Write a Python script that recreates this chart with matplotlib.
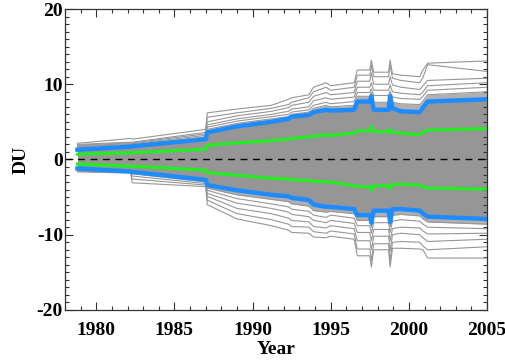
import numpy as np
import matplotlib
matplotlib.use('Agg')
from matplotlib import pyplot as plt
from matplotlib.ticker import MultipleLocator

plt.rcParams['font.family'] = ['Liberation Serif', 'DejaVu Serif']
plt.rcParams['font.weight'] = 'bold'
plt.rcParams['axes.unicode_minus'] = False

# shared break points (year) for every series
years = [1978.8, 1982.2, 1982.3, 1987.0, 1987.1, 1989.0, 1991.2, 1992.3, 1992.5,
         1993.6, 1993.9, 1994.7, 1995.0, 1996.5, 1996.7, 1997.5, 1997.6, 1997.75,
         1998.7, 1998.8, 1998.95, 1999.5, 2000.7, 2000.9, 2001.2, 2005.0]

blue_up = [1.3, 1.7, 1.75, 2.7, 3.6, 4.4, 5.0, 5.4, 5.7, 5.9, 6.3, 6.6, 6.5,
           6.6, 7.7, 7.7, 8.4, 6.6, 6.6, 8.4, 6.8, 6.4, 6.3, 6.9, 7.7, 8.0]
green_up = [0.7, 0.9, 0.9, 1.35, 1.9, 2.2, 2.5, 2.7, 2.8, 3.0, 3.1, 3.25, 3.2,
            3.5, 3.8, 3.8, 4.4, 3.7, 3.7, 4.0, 3.6, 3.5, 3.3, 3.6, 3.9, 4.1]
blue_lo = [-1.2, -1.6, -1.65, -2.7, -3.4, -4.1, -4.7, -4.9, -5.1, -5.4, -6.0, -6.3, -6.3,
           -6.6, -7.4, -7.4, -8.4, -6.8, -6.8, -8.3, -6.6, -6.6, -6.8, -7.2, -7.6, -7.9]
green_lo = [-0.6, -0.9, -0.9, -1.4, -1.75, -2.1, -2.5, -2.6, -2.7, -2.8, -2.9, -2.95, -3.0,
            -3.5, -3.6, -3.6, -4.1, -3.5, -3.5, -3.9, -3.3, -3.3, -3.4, -3.6, -3.8, -3.95]

# outlying ensemble members
upper_members = [
    [2.15, 2.8, 2.7, 4.0, 6.2, 6.7, 7.2, 8.0, 8.2, 8.6, 9.6, 10.2, 9.8,
     10.2, 11.9, 11.9, 13.2, 11.6, 11.6, 13.2, 11.4, 11.2, 11.0, 11.9, 12.8, 13.1],
    [2.0, 2.3, 2.3, 3.6, 5.6, 6.2, 6.8, 7.3, 7.6, 8.2, 9.0, 9.6, 9.2,
     9.6, 11.2, 11.2, 12.5, 11.0, 11.0, 12.6, 10.8, 10.5, 10.2, 10.9, 12.6, 11.7],
    [1.9, 2.2, 2.2, 3.4, 5.0, 5.8, 6.4, 6.9, 7.2, 7.6, 8.4, 8.9, 8.6,
     8.9, 10.4, 10.4, 11.5, 10.0, 10.0, 11.0, 9.9, 9.6, 9.3, 9.8, 10.5, 10.8],
    [1.8, 2.1, 2.1, 3.2, 4.6, 5.4, 6.0, 6.4, 6.7, 7.0, 7.8, 8.2, 8.0,
     8.3, 9.6, 9.6, 10.2, 9.2, 9.2, 9.9, 9.0, 8.8, 8.6, 9.0, 9.8, 10.2],
    [1.7, 2.0, 2.0, 3.0, 4.3, 5.1, 5.7, 6.0, 6.3, 6.6, 7.2, 7.6, 7.4,
     7.7, 8.9, 8.9, 9.4, 8.5, 8.5, 9.1, 8.3, 8.1, 8.0, 8.4, 9.2, 9.6],
    [1.6, 1.9, 1.9, 2.9, 4.0, 4.8, 5.4, 5.7, 6.0, 6.3, 6.8, 7.2, 7.0,
     7.2, 8.4, 8.4, 8.9, 7.6, 7.6, 8.7, 7.6, 7.4, 7.3, 7.8, 8.6, 9.0],
]
lower_members = [
    [-1.65, -1.8, -3.1, -3.6, -6.0, -7.9, -8.8, -9.4, -9.7, -9.8, -10.3, -10.4, -10.2,
     -10.6, -12.8, -12.8, -14.3, -12.0, -12.0, -14.3, -11.8, -11.8, -11.9, -12.0, -13.1, -13.1],
    [-1.55, -1.75, -2.6, -3.4, -5.4, -7.2, -8.0, -8.6, -8.9, -9.0, -9.6, -9.8, -9.5,
     -9.9, -11.9, -11.9, -13.4, -11.2, -11.2, -13.5, -11.0, -10.9, -11.0, -11.5, -12.0, -11.6],
    [-1.5, -1.7, -2.2, -3.2, -4.9, -6.5, -7.2, -7.8, -8.1, -8.3, -8.9, -9.1, -8.8,
     -9.2, -10.8, -10.8, -12.0, -10.2, -10.2, -12.2, -10.0, -9.8, -10.0, -10.4, -10.9, -10.6],
    [-1.45, -1.65, -1.9, -3.0, -4.5, -5.8, -6.5, -7.0, -7.3, -7.6, -8.1, -8.4, -8.1,
     -8.5, -9.7, -9.7, -10.8, -9.3, -9.3, -10.8, -9.2, -9.0, -9.1, -9.5, -9.9, -9.8],
    [-1.4, -1.6, -1.8, -2.9, -4.1, -5.2, -5.9, -6.3, -6.6, -6.9, -7.4, -7.7, -7.4,
     -7.8, -8.8, -8.8, -9.8, -8.4, -8.4, -9.7, -8.2, -8.0, -8.2, -8.6, -9.0, -9.2],
    [-1.3, -1.55, -1.7, -2.8, -3.8, -4.7, -5.3, -5.6, -5.9, -6.2, -6.8, -7.0, -6.9,
     -7.2, -8.1, -8.1, -9.0, -7.6, -7.6, -8.9, -7.4, -7.3, -7.5, -7.9, -8.3, -8.6],
]

x_ticks = [1980, 1985, 1990, 1995, 2000, 2005]
y_ticks = [-20, -10, 0, 10, 20]

gray = '#969696'

fig = plt.figure(figsize=(5.06, 3.6), dpi=100)
ax = fig.add_axes([0.1285, 0.139, 0.834, 0.836])

# dense core of the ensemble
ax.fill_between(years, blue_lo, blue_up, color=gray, lw=0)
ax.fill_between(years, blue_up, upper_members[-1], color=gray, alpha=0.75, lw=0)
ax.fill_between(years, lower_members[-1], blue_lo, color=gray, alpha=0.75, lw=0)
for m in upper_members + lower_members:
    ax.plot(years, m, color=gray, lw=0.8)

ax.axhline(0, color='black', lw=1, ls=(0, (5, 4)))
ax.plot(years, green_up, color='#22ee22', lw=2.3)
ax.plot(years, green_lo, color='#22ee22', lw=2.3)
ax.plot(years, blue_up, color='#1e8cff', lw=3.2)
ax.plot(years, blue_lo, color='#1e8cff', lw=3.2)

ax.set_xlim(1978, 2005)
ax.set_ylim(-20, 20)
ax.set_xticks(x_ticks)
ax.set_yticks(y_ticks)
ax.xaxis.set_minor_locator(MultipleLocator(1))
ax.yaxis.set_minor_locator(MultipleLocator(1))
ax.tick_params(which='both', direction='in', top=True, right=True,
               labelsize=14, color='#333333', width=0.8)
ax.tick_params(which='major', length=6)
ax.tick_params(which='minor', length=3)
ax.tick_params(axis='x', pad=9)
ax.tick_params(axis='y', pad=1.5)
for s in ax.spines.values():
    s.set_color('#333333')
    s.set_linewidth(0.9)
for lab in ax.get_xticklabels() + ax.get_yticklabels():
    lab.set_fontweight('bold')

ax.set_xlabel('Year', fontsize=14, fontweight='bold', labelpad=1)
ax.set_ylabel('DU', fontsize=14, fontweight='bold', labelpad=5)

fig.savefig('out.png', dpi=100)
